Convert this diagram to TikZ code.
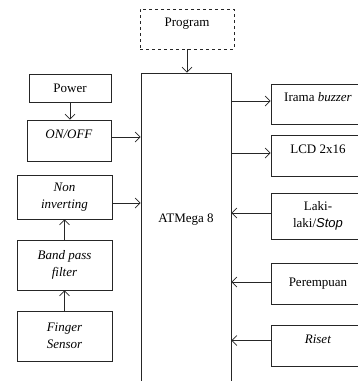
\documentclass[tikz,border=0pt]{standalone}
\usepackage{fontspec}
\setmainfont{Liberation Serif}
\newfontfamily\stopfont{Liberation Sans}
\usetikzlibrary{arrows.meta}

\begin{document}
\begin{tikzpicture}[x=1pt, y=-1pt,
  font=\fontsize{13}{17}\selectfont,
  blok/.style={draw=black!85, line width=0.8pt, align=center, inner sep=1pt},
  hi/.style={text height=10pt, text depth=15pt},
  panah/.style={-{Straight Barb[length=5pt, width=10pt]}, line width=0.7pt, draw=black!85}]
  \useasboundingbox (0,0) rectangle (358,381);
  \clip (0,0) rectangle (358,381);
  % Mikrokontroler
  \node[blok, minimum width=90pt, minimum height=330pt] (mcu) at (186,238) {};
  \node (mcutxt) at (186,220) {ATMega 8};
  \node[blok, dashed, minimum width=94pt, minimum height=40pt, hi] (prog) at (187,29) {Program};
  % Input kiri
  \node[blok, minimum width=82pt, minimum height=28pt] (power) at (70,88) {Power};
  \node[blok, minimum width=84pt, minimum height=41pt, hi] (onoff) at (69,140.5) {\textit{ON/OFF}};
  \node[blok, minimum width=95pt, minimum height=44pt] (noninv) at (64.5,197) {\textit{Non}\\\textit{inverting}};
  \node[blok, minimum width=95pt, minimum height=50pt] (bpf) at (64.5,265) {\textit{Band pass}\\\textit{filter}};
  \node[blok, minimum width=95pt, minimum height=50pt] (finger) at (64.5,336) {\textit{Finger}\\\textit{Sensor}};
  % Output / tombol kanan
  \node[blok, minimum width=94pt, minimum height=40pt, hi] (buzzer) at (318,104) {Irama \textit{buzzer}};
  \node[blok, minimum width=94pt, minimum height=41pt, hi] (lcd) at (318,155.5) {LCD 2x16};
  \node[blok, minimum width=94pt, minimum height=46pt] (laki) at (318,216) {Laki-\\laki/{\stopfont\itshape Stop}};
  \node[blok, minimum width=94pt, minimum height=41pt] (perem) at (318,283.5) {Perempuan};
  \node[blok, minimum width=94pt, minimum height=41pt, hi] (riset) at (318,345.5) {\textit{Riset}};
  % Panah
  \draw[panah] (prog.south) -- (prog.south |- mcu.north);
  \draw[panah] (power.south) -- (power.south |- onoff.north);
  \draw[panah] (finger) -- (bpf);
  \draw[panah] (bpf) -- (noninv);
  \draw[panah] ([yshift=3.5pt]onoff.east) coordinate (t) -- (t -| mcu.west);
  \draw[panah] ([yshift=-6pt]noninv.east) coordinate (t) -- (t -| mcu.west);
  \foreach \n/\s in {buzzer/3, lcd/2.5}
    \draw[panah] ([yshift=\s pt]\n.west) coordinate (t) (t -| mcu.east) -- (t);
  \foreach \n/\s in {laki/3, perem/1.5, riset/5}
    \draw[panah] ([yshift=\s pt]\n.west) coordinate (t) -- (t -| mcu.east);
\end{tikzpicture}
\end{document}
